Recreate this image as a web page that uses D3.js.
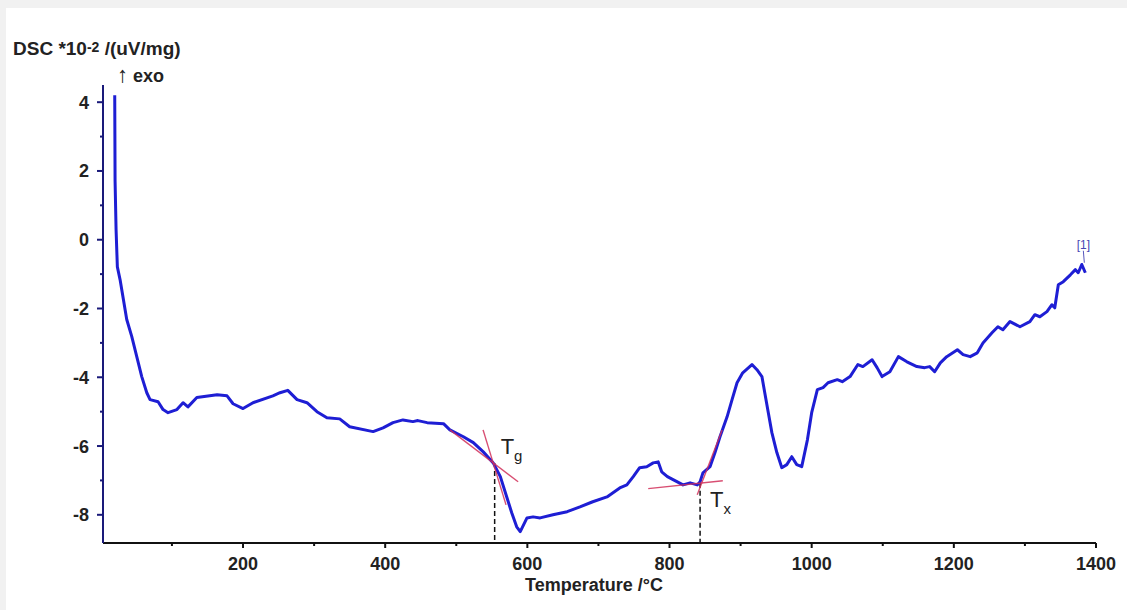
<!DOCTYPE html>
<html>
<head>
<meta charset="utf-8">
<script src="https://cdn.jsdelivr.net/npm/d3@7"></script>
<style>
  html, body { margin: 0; padding: 0; background: #f1f1f1; }
  svg { display: block; }
</style>
</head>
<body>
<svg id="chart"></svg>
<script>
// DSC curve (temperature in °C, DSC in 10^-2 uV/mg)
const temps = [19.5, 20, 21.4, 23.2, 27, 31.7, 36.4, 43.5, 50.5, 57.5, 64.6, 69.2, 80.5, 87.5, 94.5,
  107, 115.6, 122.5, 135, 163.5, 177.5, 186, 200, 214, 242, 252, 263, 276, 290, 304, 318, 336, 350,
  383, 397, 411, 425, 439, 446, 459, 482, 491, 510, 524, 538, 552, 562, 571, 578, 585, 590, 599.5,
  608, 618, 636, 656, 674, 692, 712, 730, 740, 749, 758, 768, 777, 784, 789, 797, 811, 819, 829,
  839, 843, 847, 857, 864, 871, 881, 888, 895, 903, 916, 923, 930, 934, 939, 944, 951, 958, 965,
  972, 979, 986, 994, 1000, 1008, 1016, 1023, 1036, 1043, 1054, 1065, 1072, 1085, 1092, 1099, 1110,
  1122, 1134, 1148, 1159, 1166, 1173, 1181, 1190, 1205, 1213, 1223, 1233, 1241, 1254, 1262, 1269,
  1279, 1293, 1307, 1314, 1321, 1331, 1338, 1342, 1347, 1354, 1364, 1371, 1375, 1380, 1385];
const dsc = [4.2, 1.7, 0.29, -0.79, -1.16, -1.74, -2.32, -2.82, -3.40, -3.98, -4.45, -4.65, -4.71, -4.94, -5.03,
  -4.94, -4.74, -4.86, -4.59, -4.51, -4.54, -4.77, -4.91, -4.74, -4.54, -4.45, -4.38, -4.65, -4.74, -5.0, -5.18, -5.21, -5.44,
  -5.58, -5.47, -5.32, -5.24, -5.29, -5.26, -5.32, -5.35, -5.53, -5.73, -5.90, -6.17, -6.49, -6.89, -7.48, -7.94, -8.35, -8.49, -8.09,
  -8.06, -8.09, -8.0, -7.91, -7.77, -7.62, -7.48, -7.22, -7.13, -6.89, -6.63, -6.60, -6.49, -6.46, -6.75, -6.89, -7.04, -7.13, -7.07,
  -7.13, -7.04, -6.78, -6.60, -6.19, -5.73, -5.15, -4.65, -4.16, -3.87, -3.63, -3.78, -3.98, -4.45, -5.03, -5.61, -6.19, -6.63, -6.54,
  -6.31, -6.54, -6.60, -5.82, -5.03, -4.36, -4.30, -4.16, -4.07, -4.13, -3.98, -3.63, -3.69, -3.49, -3.72, -3.98, -3.84,
  -3.40, -3.55, -3.69, -3.72, -3.69, -3.84, -3.58, -3.40, -3.20, -3.34, -3.40, -3.29, -3.0, -2.70, -2.53, -2.62,
  -2.38, -2.53, -2.38, -2.18, -2.24, -2.09, -1.89, -1.98, -1.31, -1.22, -1.02, -0.87, -0.96, -0.72, -0.96];

const xMajorTicks = [200, 400, 600, 800, 1000, 1200, 1400];
const xMinorTicks = [100, 300, 500, 700, 900, 1100, 1300];
const yMajorTicks = [-8, -6, -4, -2, 0, 2, 4];
const yMinorTicks = [-7, -5, -3, -1, 1, 3];

// onset construction lines
const tgPoint = [554, -6.49];
const txPoint = [843, -7.07];
const tangents = [
  [[491, -5.53], [587, -7.04]],
  [[537.7, -5.53], [570, -7.71]],
  [[770, -7.24], [875, -7.01]],
  [[839, -7.42], [874, -5.53]]
];

const width = 1127;
const height = 610;

const svg = d3.select("#chart").attr("width", width).attr("height", height);

// white panel inside the grey frame
svg.append("rect").attr("x", 6).attr("y", 8).attr("width", width - 6).attr("height", height - 8).attr("fill", "#ffffff");

const x = d3.scaleLinear().domain([3, 1400]).range([103, 1096]);
const y = d3.scaleLinear().domain([-8.82, 4.5]).range([543, 85]);

const font = "Arial, 'Liberation Sans', sans-serif";

// x axis
const xAxis = svg.append("g").attr("transform", `translate(0,${y.range()[0]})`);
xAxis.append("line")
  .attr("x1", x.range()[0]).attr("x2", x(1400))
  .attr("stroke", "#111").attr("stroke-width", 2);
xAxis.selectAll("line.major").data(xMajorTicks).enter().append("line")
  .attr("class", "major")
  .attr("x1", d => x(d)).attr("x2", d => x(d))
  .attr("y1", 0).attr("y2", 5)
  .attr("stroke", "#111").attr("stroke-width", 2);
xAxis.selectAll("line.minor").data(xMinorTicks).enter().append("line")
  .attr("class", "minor")
  .attr("x1", d => x(d)).attr("x2", d => x(d))
  .attr("y1", 0).attr("y2", 3)
  .attr("stroke", "#111").attr("stroke-width", 2);
xAxis.selectAll("text").data(xMajorTicks).enter().append("text")
  .attr("x", d => x(d)).attr("y", 27)
  .attr("text-anchor", "middle")
  .style("font", `bold 18px ${font}`)
  .attr("fill", "#222")
  .text(d => d);

// y axis
const yAxis = svg.append("g").attr("transform", `translate(${x.range()[0]},0)`);
yAxis.append("line")
  .attr("y1", y.range()[1]).attr("y2", y.range()[0])
  .attr("stroke", "#1a1a7a").attr("stroke-width", 2);
yAxis.selectAll("line.major").data(yMajorTicks).enter().append("line")
  .attr("class", "major")
  .attr("y1", d => y(d)).attr("y2", d => y(d))
  .attr("x1", 0).attr("x2", -6)
  .attr("stroke", "#1a1a7a").attr("stroke-width", 2);
yAxis.selectAll("line.minor").data(yMinorTicks).enter().append("line")
  .attr("class", "minor")
  .attr("y1", d => y(d)).attr("y2", d => y(d))
  .attr("x1", 0).attr("x2", -3)
  .attr("stroke", "#1a1a7a").attr("stroke-width", 2);
yAxis.selectAll("text").data(yMajorTicks).enter().append("text")
  .attr("x", -14).attr("y", d => y(d))
  .attr("dy", "0.36em")
  .attr("text-anchor", "end")
  .style("font", `bold 18px ${font}`)
  .attr("fill", "#222")
  .text(d => d);

// axis titles
const yTitle = svg.append("text")
  .attr("x", 13).attr("y", 55)
  .style("font", `bold 19px ${font}`)
  .attr("fill", "#222");
yTitle.append("tspan").text("DSC *10");
yTitle.append("tspan").attr("dy", -3).style("font-size", "14px").text("-2");
yTitle.append("tspan").attr("dy", 3).text(" /(uV/mg)");

const exo = svg.append("text")
  .attr("x", 117).attr("y", 82)
  .style("font", `bold 18px ${font}`)
  .attr("fill", "#222");
exo.append("tspan").style("font-weight", "normal").style("font-size", "22px").text("\u2191");
exo.append("tspan").text(" exo");

svg.append("text")
  .attr("x", 594).attr("y", 591)
  .attr("text-anchor", "middle")
  .style("font", `bold 18px ${font}`)
  .attr("fill", "#222")
  .text("Temperature /\u00b0C");

// onset dashed drop lines
svg.selectAll("line.drop").data([tgPoint, txPoint]).enter().append("line")
  .attr("class", "drop")
  .attr("x1", d => x(d[0])).attr("x2", d => x(d[0]))
  .attr("y1", d => y(d[1])).attr("y2", y.range()[0])
  .attr("stroke", "#111").attr("stroke-width", 1.5)
  .attr("stroke-dasharray", "5,3");

// DSC curve
const points = temps.map((t, i) => [t, dsc[i]]);
const line = d3.line().x(d => x(d[0])).y(d => y(d[1]));
svg.append("path")
  .datum(points)
  .attr("d", line)
  .attr("fill", "none")
  .attr("stroke", "#1e1ed4")
  .attr("stroke-width", 3)
  .attr("stroke-linejoin", "round");

// tangent lines
svg.selectAll("line.tangent").data(tangents).enter().append("line")
  .attr("class", "tangent")
  .attr("x1", d => x(d[0][0])).attr("y1", d => y(d[0][1]))
  .attr("x2", d => x(d[1][0])).attr("y2", d => y(d[1][1]))
  .attr("stroke", "#d2305a").attr("stroke-width", 1.4)
  .attr("opacity", 0.85);

// onset labels
function onsetLabel(px, py, sub) {
  const t = svg.append("text")
    .attr("x", px).attr("y", py)
    .style("font", `22px ${font}`)
    .attr("fill", "#222");
  t.append("tspan").text("T");
  t.append("tspan").attr("dy", 7).style("font-size", "15px").text(sub);
}
onsetLabel(x(tgPoint[0]) + 6, y(tgPoint[1]) - 9, "g");
onsetLabel(x(txPoint[0]) + 10, y(txPoint[1]) + 24, "x");

// curve marker [1]
const endPt = points[points.length - 1];
svg.append("line")
  .attr("x1", x(endPt[0]) - 1).attr("y1", y(endPt[1]) - 10)
  .attr("x2", x(endPt[0]) - 2).attr("y2", y(endPt[1]) - 22)
  .attr("stroke", "#5555bb").attr("stroke-width", 1);
svg.append("text")
  .attr("x", x(endPt[0]) - 2).attr("y", y(endPt[1]) - 24)
  .attr("text-anchor", "middle")
  .style("font", `12px ${font}`)
  .attr("fill", "#4646b4")
  .text("[1]");
</script>
</body>
</html>
